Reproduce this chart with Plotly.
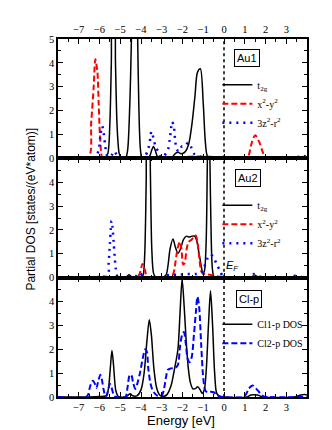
import plotly.graph_objects as go
from plotly.subplots import make_subplots

# ---- Au1 panel ----
au1_t2g_e = [-8, -5.75, -5.6, -5.5, -5.43, -5.36, -5.3, -5.23, -5.15, -5.05, -4.95,
             -4.75, -4.65, -4.57, -4.5, -4.45, -4.38, -4.3, -4.22, -4.16, -4.1, -4.03, -3.95,
             -3.75, -3.6, -3.5, -3.4, -3.3, -3.2, -3.05, -2.8, -2.5, -2.35, -2.2, -2.1, -2.0,
             -1.85, -1.7, -1.55, -1.4, -1.28, -1.14, -1.0, -0.9, -0.8, -0.6, 0, 1.0, 1.5, 2.0, 4]
au1_t2g = [0, 0, 0.2, 1.5, 4.0, 6.8, 6.8, 4.0, 1.3, 0.2, 0,
           0, 0.3, 1.5, 3.5, 5.5, 8.0, 9.0, 8.0, 5.0, 2.0, 0.4, 0,
           0, 0.05, 0.3, 0.5, 0.3, 0.05, 0, 0, 0.05, 0.2, 0.25, 0.2, 0.2,
           0.3, 0.6, 1.4, 2.6, 3.6, 3.75, 2.3, 0.7, 0.1, 0, 0, 0, 0.03, 0, 0]

au1_x2y2_e = [-8, -6.55, -6.4, -6.28, -6.2, -6.1, -6.04, -5.98, -5.9, -5.85, -5.5,
              -3.0, -2.4, -2.0, -1.6, -1.2, -0.8, -0.3, 0, 1.1, 1.2, 1.32, 1.5, 1.72,
              1.85, 1.97, 2.05, 4]
au1_x2y2 = [0, 0, 1.5, 3.0, 4.15, 3.6, 2.3, 1.0, 0.1, 0, 0,
            0, 0.02, 0.05, 0.07, 0.08, 0.07, 0.05, 0, 0, 0.15, 0.6, 0.97, 0.64,
            0.3, 0.05, 0, 0]

au1_z2_e = [-8, -6.3, -6.15, -6.05, -5.95, -5.87, -5.8, -5.72, -5.65, -5.55, -5.4,
            -5.28, -5.18, -5.05, -4.8, -4.0, -3.8, -3.65, -3.55, -3.5, -3.4, -3.31,
            -3.18, -3.05, -2.9, -2.7, -2.62, -2.54, -2.51, -2.43, -2.35, -2.27, -2.15,
            -2.03, -1.9, -1.73, -1.6, -1.45, -1.3, -1.1, -0.8, 0, 3.0, 3.5, 3.8, 4]
au1_z2 = [0, 0, 0.15, 0.3, 1.0, 1.35, 1.05, 0.5, 0.15, 0.05, 0.15,
          0.3, 0.15, 0.02, 0, 0, 0.1, 0.4, 0.85, 1.13, 0.85, 0.53,
          0.3, 0.05, 0.1, 0.36, 0.76, 1.34, 1.53, 1.41, 0.71, 0.36, 0.3,
          0.5, 0.5, 0.65, 0.5, 0.2, 0.15, 0.05, 0.02, 0, 0, 0.05, 0.1, 0.05]

# ---- Au2 panel ----
au2_t2g_e = [-8, -4.8, -4.68, -4.58, -4.48, -4.35, -4.0, -3.9, -3.82, -3.75, -3.68,
             -3.62, -3.55, -3.48, -3.4, -3.3, -3.0, -2.8, -2.7, -2.6, -2.46, -2.35,
             -2.22, -2.1, -1.95, -1.8, -1.68, -1.55, -1.41, -1.3, -1.2, -1.09, -1.02,
             -0.94, -0.86, -0.8, -0.74, -0.68, -0.62, -0.55, -0.45, 4]
au2_t2g = [0, 0, 0.05, 0.12, 0.05, 0, 0, 0.1, 1.0, 4.0, 8.0,
           8.0, 4.5, 1.2, 0.2, 0.02, 0, 0.1, 0.5, 1.2, 1.62, 1.3,
           1.02, 1.2, 1.6, 1.74, 1.7, 1.74, 1.74, 1.5, 1.0, 0.45, 0.15,
           0.3, 1.5, 5.0, 8.0, 5.0, 1.8, 0.3, 0, 0]

au2_x2y2_e = [-8, -6.3, -6.0, -5.7, -5.5, -4.2, -4.05, -3.93, -3.82, -3.72, -3.5,
              -2.6, -2.5, -2.4, -2.3, -2.2, -2.12, -2.05, -1.97, -1.9, -1.8, -1.7,
              -1.55, -1.45, -1.36, -1.28, -1.2, -1.12, -1.05, -0.9, -0.7, -0.5, -0.3,
              0, 1.3, 1.45, 1.6, 1.8, 4]
au2_x2y2 = [0, 0, 0.05, 0.05, 0, 0, 0.2, 0.57, 0.35, 0.05, 0,
            0, 0.05, 0.3, 0.9, 1.35, 1.5, 1.2, 0.55, 0.6, 1.2, 1.5,
            1.6, 1.72, 1.77, 1.5, 0.9, 0.35, 0.2, 0.15, 0.12, 0.1, 0.05,
            0, 0, 0.1, 0.05, 0, 0]

au2_z2_e = [-8, -5.62, -5.56, -5.5, -5.46, -5.42, -5.37, -5.32, -5.27, -5.22, -5.15,
            -5.05, -4.3, -4.2, -4.1, -4.0, -3.9, -3.6, -3.1, -2.9, -2.6, -2.2, -1.8,
            -1.4, -1.1, -0.95, -0.8, -0.65, -0.5, -0.37, -0.2, -0.05, 0.2, 1.2, 1.45,
            1.7, 2.0, 3.2, 3.5, 3.8, 4]
au2_z2 = [0, 0, 0.6, 1.4, 2.0, 2.38, 2.1, 1.5, 0.9, 0.4, 0.08,
          0, 0, 0.1, 0.2, 0.15, 0.05, 0, 0, 0.05, 0.12, 0.12, 0.15,
          0.15, 0.2, 0.45, 0.8, 0.97, 0.85, 0.6, 0.3, 0.05, 0, 0, 0.15,
          0.05, 0, 0, 0.1, 0, 0]

# ---- Cl-p panel ----
cl1_e = [-8, -6.5, -6.0, -5.7, -5.58, -5.48, -5.4, -5.32, -5.22, -5.1, -4.8, -4.65,
         -4.52, -4.4, -4.2, -4.0, -3.85, -3.72, -3.6, -3.5, -3.38, -3.25, -3.1, -2.95,
         -2.75, -2.55, -2.38, -2.22, -2.12, -2.02, -1.92, -1.82, -1.72, -1.62, -1.5,
         -1.38, -1.27, -1.15, -1.05, -0.95, -0.85, -0.75, -0.65, -0.55, -0.45, -0.35,
         -0.2, 0, 1.1, 1.3, 1.6, 1.9, 3.4, 3.7, 3.9, 4]
cl1_dos = [0, 0, 0.02, 0.05, 0.3, 1.2, 1.95, 1.3, 0.3, 0.03, 0, 0.05,
           0.14, 0.05, 0.05, 0.3, 1.0, 2.3, 3.24, 2.6, 1.2, 0.4, 0.08, 0.02,
           0.1, 0.48, 1.2, 2.0, 3.5, 4.94, 3.8, 2.3, 1.2, 0.6, 0.34,
           0.35, 0.43, 0.3, 0.15, 0.3, 1.2, 3.0, 4.45, 3.0, 1.0, 0.15,
           0.02, 0, 0, 0.08, 0.08, 0, 0, 0.08, 0.1, 0.08]

cl2_e = [-8, -6.65, -6.55, -6.45, -6.32, -6.22, -6.15, -6.05, -5.96, -5.88, -5.8,
         -5.72, -5.65, -5.58, -5.5, -5.42, -5.3, -5.2, -4.75, -4.65, -4.55, -4.47,
         -4.38, -4.28, -4.2, -4.05, -3.92, -3.8, -3.72, -3.65, -3.55, -3.45, -3.34,
         -3.2, -3.0, -2.9, -2.8, -2.7, -2.55, -2.35, -2.22, -2.12, -2.02, -1.93,
         -1.85, -1.75, -1.65, -1.55, -1.45, -1.35, -1.28, -1.2, -1.1, -1.0, -0.9,
         -0.8, -0.65, -0.5, -0.35, -0.2, 0, 0.9, 1.05, 1.2, 1.38, 1.55, 1.75, 1.9,
         2.1, 4]
cl2_dos = [0, 0, 0.1, 0.45, 0.68, 0.55, 0.38, 0.7, 0.93, 0.7, 0.3,
           0.05, 0.05, 0.3, 0.56, 0.4, 0.05, 0, 0, 0.4, 0.9, 0.93,
           0.6, 0.34, 0.5, 1.0, 1.6, 2.0, 1.9, 1.2, 0.6, 0.3, 0.15,
           0.05, 0.05, 0.3, 0.8, 1.15, 1.2, 1.22, 1.35, 2.1, 2.6, 2.72,
           2.3, 1.6, 1.46, 1.7, 2.6, 3.6, 4.2, 3.8, 2.2, 0.8, 0.27,
           0.2, 0.22, 0.2, 0.1, 0.02, 0, 0, 0.1, 0.35, 0.48, 0.35, 0.15, 0.03,
           0, 0]

x_ticks = [-7, -6, -5, -4, -3, -2, -1, 0, 1, 2, 3]

BLACK = 'black'
RED = '#ff0000'
BLUE = '#0000ff'
DOT = '2px,5px'
DASH = '6px,3px'
SERIF = 'Liberation Serif'
SANS = 'Liberation Sans'

fig = make_subplots(rows=3, cols=1, shared_xaxes=True, vertical_spacing=0)


def add_line(x, y, row, name, color, dash, width, legend):
    fig.add_trace(go.Scatter(
        x=x, y=y, mode='lines', name=name,
        line=dict(color=color, dash=dash, width=width, shape='spline', smoothing=0.8),
        legend=legend, hoverinfo='skip'
    ), row=row, col=1)


add_line(au1_t2g_e, au1_t2g, 1, 't<sub>2g</sub>', BLACK, 'solid', 1.5, 'legend')
add_line(au1_x2y2_e, au1_x2y2, 1, 'x<sup>2</sup>-y<sup>2</sup>', RED, DASH, 2, 'legend')
add_line(au1_z2_e, au1_z2, 1, '3z<sup>2</sup>-r<sup>2</sup>', BLUE, DOT, 2.5, 'legend')

add_line(au2_t2g_e, au2_t2g, 2, 't<sub>2g</sub>', BLACK, 'solid', 1.5, 'legend2')
add_line(au2_x2y2_e, au2_x2y2, 2, 'x<sup>2</sup>-y<sup>2</sup>', RED, DASH, 2, 'legend2')
add_line(au2_z2_e, au2_z2, 2, '3z<sup>2</sup>-r<sup>2</sup>', BLUE, DOT, 2.5, 'legend2')

add_line(cl1_e, cl1_dos, 3, 'Cl1-p DOS', BLACK, 'solid', 1.5, 'legend3')
add_line(cl2_e, cl2_dos, 3, 'Cl2-p DOS', BLUE, DASH, 2, 'legend3')

# Fermi level
for r in (1, 2, 3):
    fig.add_vline(x=0, line=dict(color=BLACK, dash='dot', width=1.5), row=r, col=1)

axis_common = dict(
    showline=True, linecolor=BLACK, linewidth=1.5, mirror='ticks',
    ticks='inside', ticklen=5, tickwidth=1, tickcolor=BLACK,
    showgrid=False, zeroline=False,
    tickfont=dict(family=SERIF, size=10.5, color=BLACK),
)

for r in (1, 2, 3):
    fig.update_xaxes(
        range=[-8, 4], tickmode='array', tickvals=x_ticks,
        minor=dict(dtick=0.5, tick0=0, ticks='inside', ticklen=3, tickcolor=BLACK),
        **axis_common, row=r, col=1
    )
    fig.update_yaxes(
        range=[0, 5], tickmode='array',
        tickvals=[0, 1, 2, 3, 4, 5] if r == 1 else [0, 1, 2, 3, 4],
        minor=dict(dtick=0.5, tick0=0, ticks='inside', ticklen=3, tickcolor=BLACK),
        **axis_common, row=r, col=1
    )

fig.update_xaxes(side='top', showticklabels=True, row=1, col=1)
fig.update_xaxes(showticklabels=False, row=2, col=1)
fig.update_xaxes(showticklabels=True, row=3, col=1)

box = dict(bordercolor=BLACK, borderwidth=1, borderpad=2, showarrow=False,
           font=dict(family=SANS, size=11, color=BLACK))
fig.add_annotation(text='Au1', x=1.13, y=4.2, xref='x', yref='y', **box)
fig.add_annotation(text='Au2', x=1.16, y=4.16, xref='x2', yref='y2', **box)
fig.add_annotation(text='Cl-p', x=1.2, y=4.12, xref='x3', yref='y3', **box)

fig.add_annotation(text='<i>E<sub>F</sub></i>', x=0.39, y=0.5, xref='x2', yref='y2',
                   showarrow=False, font=dict(family=SANS, size=11, color=BLACK))

fig.add_annotation(text='Partial DOS [states/(eV*atom)]', textangle=-90,
                   x=-0.145, y=0.526, xref='paper', yref='paper', showarrow=False,
                   font=dict(family=SANS, size=12, color=BLACK))
fig.add_annotation(text='Energy [eV]', x=0.492, y=-0.065, xref='paper', yref='paper',
                   showarrow=False, yanchor='middle',
                   font=dict(family=SANS, size=13, color=BLACK))

legend_common = dict(
    xanchor='left', yanchor='top', bgcolor='rgba(0,0,0,0)', borderwidth=0,
    font=dict(family=SERIF, size=10, color=BLACK), tracegroupgap=0,
)

fig.update_layout(
    width=332, height=430,
    margin=dict(l=50, r=33, t=31, b=41),
    plot_bgcolor='white', paper_bgcolor='white',
    showlegend=True,
    legend=dict(x=0.64, y=0.913, **legend_common),
    legend2=dict(x=0.64, y=0.576, **legend_common),
    legend3=dict(x=0.64, y=0.244, **legend_common),
)

fig.write_html("out.html")
